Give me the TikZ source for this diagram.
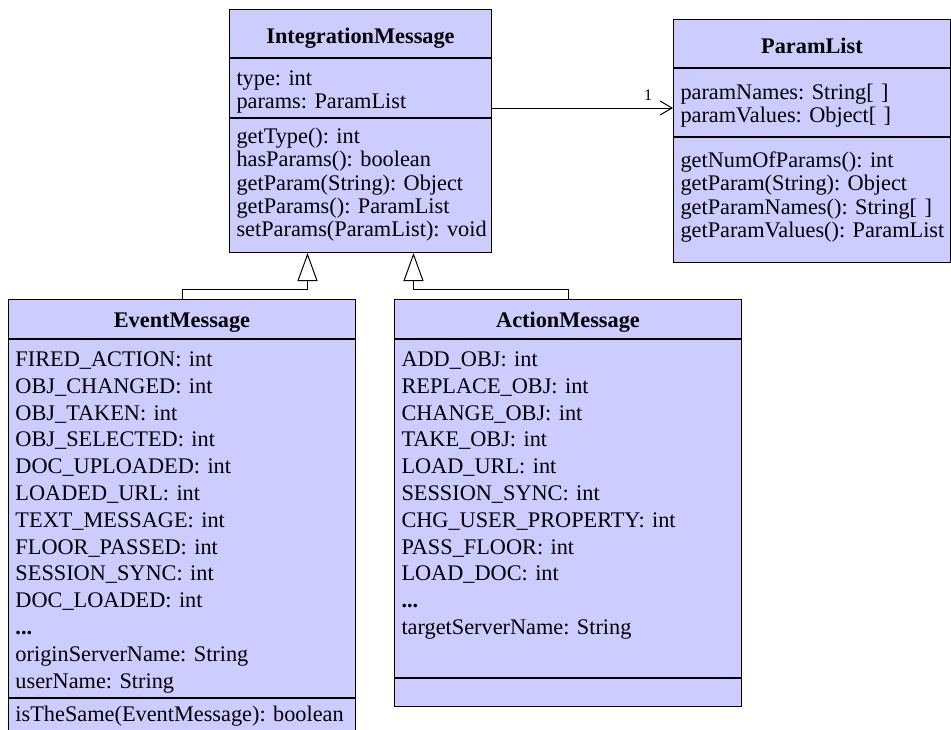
\documentclass[tikz,border=0pt]{standalone}
\usepackage{fontspec}
\setmainfont{Liberation Serif}
\usepackage{tikz}
\usetikzlibrary{positioning,arrows.meta}
\definecolor{classfill}{RGB}{204,204,255}
\newcommand{\umltop}{\fontsize{22.3}{23.3}\selectfont}
\newcommand{\umlbot}{\fontsize{22.3}{26.8}\selectfont}
\tikzstyle{classtitle}=[rectangle, draw=black, fill=classfill, line width=1pt, inner xsep=7pt, inner ysep=0pt, font=\umltop\bfseries, align=center]
\tikzstyle{classpart}=[rectangle, draw=black, fill=classfill, line width=1pt, inner xsep=7pt, inner ysep=0pt, font=\umltop, align=left]
\tikzstyle{inherit}=[-{Triangle[open, length=28pt, width=20pt]}, line width=1pt]
\tikzstyle{assoc}=[-{Straight Barb[length=12pt, width=14pt]}, line width=1pt]

\begin{document}
\frenchspacing\hyphenpenalty=10000\exhyphenpenalty=10000
\begin{tikzpicture}[x=1pt, y=-1pt]
        \useasboundingbox (0,0) rectangle (951,729);
        \clip (0,0) rectangle (951,729);

        % IntegrationMessage
        \node (imTitle) [classtitle, anchor=north west, text width=248pt, text height=34pt, text depth=14pt] at (229,9) {IntegrationMessage};
        \node (imAttr) [classpart, below=0pt of imTitle, text width=248pt, text height=27pt, text depth=32pt] {type:~int\\ params:~ParamList};
        \node (imOps) [classpart, below=0pt of imAttr, text width=248pt, text height=25pt, text depth=109pt] {getType():~int\\ hasParams():~boolean\\ getParam(String):~Object\\ getParams():~ParamList\\ setParams(ParamList):~void};

        % ParamList
        \node (plTitle) [classtitle, anchor=north west, text width=263pt, text height=34pt, text depth=14pt] at (673,19) {ParamList};
        \node (plAttr) [classpart, below=0pt of plTitle, text width=263pt, text height=31pt, text depth=37pt] {paramNames:~String[~]\\ paramValues:~Object[~]};
        \node (plOps) [classpart, below=0pt of plAttr, text width=263pt, text height=30pt, text depth=95pt] {getNumOfParams():~int\\ getParam(String):~Object\\ getParamNames():~String[~]\\ getParamValues():~ParamList};

        % EventMessage
        \node (emTitle) [classtitle, anchor=north west, text width=333pt, text height=28pt, text depth=11pt] at (8,299) {EventMessage};
        \node (emAttr) [classpart, below=0pt of emTitle, text width=333pt, text height=27pt, text depth=331pt, font=\umlbot] {FIRED\_ACTION:~int\\ OBJ\_CHANGED:~int\\ OBJ\_TAKEN:~int\\ OBJ\_SELECTED:~int\\ DOC\_UPLOADED:~int\\ LOADED\_URL:~int\\ TEXT\_MESSAGE:~int\\ FLOOR\_PASSED:~int\\ SESSION\_SYNC:~int\\ DOC\_LOADED:~int\\ \textbf{...}\\ originServerName:~String\\ userName:~String};
        \node (emOps) [classpart, below=0pt of emAttr, text width=333pt, text height=23pt, text depth=20pt] {isTheSame(EventMessage):~boolean};

        % ActionMessage
        \node (amTitle) [classtitle, anchor=north west, text width=333pt, text height=28pt, text depth=11pt] at (394,299) {ActionMessage};
        \node (amAttr) [classpart, below=0pt of amTitle, text width=333pt, text height=27pt, text depth=311pt, font=\umlbot] {ADD\_OBJ:~int\\ REPLACE\_OBJ:~int\\ CHANGE\_OBJ:~int\\ TAKE\_OBJ:~int\\ LOAD\_URL:~int\\ SESSION\_SYNC:~int\\ CHG\_USER\_PROPERTY:~int\\ PASS\_FLOOR:~int\\ LOAD\_DOC:~int\\ \textbf{...}\\ targetServerName:~String};
        \node (amOps) [classpart, below=0pt of amAttr, text width=333pt, text height=28pt, text depth=0pt] {};

        \draw [assoc] ([yshift=10pt]imAttr.south east) -- ([yshift=10pt]imAttr.south east -| plAttr.west)
            node (multOne) [anchor=center, xshift=-25pt, yshift=13pt, inner sep=0pt, font=\fontsize{16}{16}\selectfont] {1};

        \draw [inherit] (emTitle.north) -- ++(0,-10) -| ([xshift=-53pt]imOps.south);
        \draw [inherit] (amTitle.north) -- ++(0,-10) -| ([xshift=53pt]imOps.south);

\end{tikzpicture}
\end{document}
